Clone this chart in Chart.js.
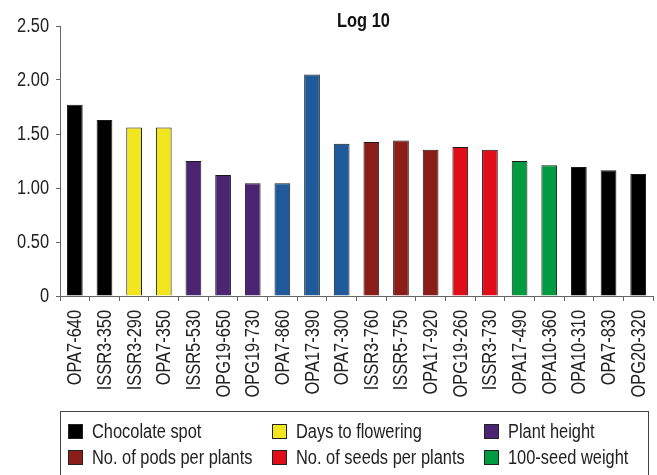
<!DOCTYPE html>
<html>
<head>
<meta charset="utf-8">
<script src="https://cdn.jsdelivr.net/npm/chart.js@4/dist/chart.umd.min.js"></script>
<style>
  html, body { margin: 0; padding: 0; background: #fff; }
  #wrap { width: 657px; height: 475px; }
</style>
</head>
<body>
<div id="wrap"><canvas id="log10-chart" width="657" height="475"></canvas></div>
<script>
/* data */
const markers = ['OPA7-640', 'ISSR3-350', 'ISSR3-290', 'OPA7-350', 'ISSR5-530', 'OPG19-650',
  'OPG19-730', 'OPA7-860', 'OPA17-390', 'OPA7-300', 'ISSR3-760', 'ISSR5-750', 'OPA17-920',
  'OPG19-260', 'ISSR3-730', 'OPA17-490', 'OPA10-360', 'OPA10-310', 'OPA7-830', 'OPG20-320'];
const log10Values = [1.77, 1.63, 1.56, 1.56, 1.25, 1.12, 1.045, 1.045, 2.05, 1.41,
  1.425, 1.44, 1.355, 1.38, 1.355, 1.25, 1.21, 1.195, 1.165, 1.13];
// trait index of each marker (6 = blue group, not in the legend)
const markerTrait = [0, 0, 1, 1, 2, 2, 2, 6, 6, 6, 3, 3, 3, 4, 4, 5, 5, 0, 0, 0];
const traitNames = ['Chocolate spot', 'Days to flowering', 'Plant height',
  'No. of pods per plants', 'No. of seeds per plants', '100-seed weight'];
const yTicks = [0, 0.5, 1, 1.5, 2, 2.5];

const traitColors = ['#000000', '#F2E620', '#4B2571', '#8B1E19', '#E00C17', '#009A40', '#1F5A9B'];
const FONT = "'Liberation Sans', Arial, sans-serif";
const NARROW = 0.82; // squeeze Arial-like text to look like the condensed face

function narrowText(c, text, x, y, align, rot) {
  c.save();
  c.translate(x, y);
  if (rot) c.rotate(rot);
  c.scale(NARROW, 1);
  c.textAlign = align;
  c.fillText(text, 0, 0);
  c.restore();
}

const yLabel = v => v === 0 ? '0' : v.toFixed(2);

// tick labels, title and boxed legend drawn by hand
const extras = {
  id: 'extras',
  afterDraw(chart) {
    const c = chart.ctx;
    const a = chart.chartArea;
    const xs = chart.scales.x, ys = chart.scales.y;
    c.save();
    c.fillStyle = '#222';
    c.textBaseline = 'middle';
    c.font = '20px ' + FONT;
    markers.forEach((m, i) => {
      narrowText(c, m, xs.getPixelForTick(i) + 1, xs.top + 14, 'right', -Math.PI / 2);
    });
    yTicks.forEach(v => {
      narrowText(c, yLabel(v), a.left - 11, ys.getPixelForValue(v), 'right', 0);
    });

    c.fillStyle = '#111';
    c.font = 'bold 20px ' + FONT;
    c.textBaseline = 'alphabetic';
    narrowText(c, 'Log 10', (a.left + a.right) / 2 + 7, 27, 'center', 0);

    c.strokeStyle = '#444';
    c.lineWidth = 1;
    c.strokeRect(60.5, 411.5, 588, 100);

    const colX = [68, 272, 484];
    const rowY = [424, 450];
    c.font = '20px ' + FONT;
    c.textBaseline = 'middle';
    traitNames.forEach((name, i) => {
      const x = colX[i % 3], y = rowY[Math.floor(i / 3)];
      c.fillStyle = traitColors[i];
      c.fillRect(x, y, 15, 15);
      c.strokeStyle = '#222';
      c.strokeRect(x + 0.5, y + 0.5, 14, 14);
      c.fillStyle = '#222';
      narrowText(c, name, x + 24, y + 8, 'left', 0);
    });
    c.restore();
  }
};

new Chart(document.getElementById('log10-chart').getContext('2d'), {
  type: 'bar',
  data: {
    labels: markers,
    datasets: [{
      data: log10Values,
      backgroundColor: markerTrait.map(t => traitColors[t]),
      borderColor: '#1a1a1a',
      borderWidth: 1,
      barPercentage: 0.53,
      categoryPercentage: 1
    }]
  },
  options: {
    responsive: false,
    animation: false,
    layout: { padding: { top: 26, left: 0, right: 4, bottom: 0 } },
    plugins: { legend: { display: false }, title: { display: false }, tooltip: { enabled: false } },
    scales: {
      x: {
        grid: { drawOnChartArea: false, tickLength: 5, tickColor: '#666', offset: true },
        border: { color: '#666' },
        ticks: { display: false, autoSkip: false },
        afterFit(scale) { scale.height = 179; }
      },
      y: {
        min: 0, max: 2.5,
        afterBuildTicks(scale) { scale.ticks = yTicks.map(v => ({ value: v })); },
        grid: { drawOnChartArea: false, tickLength: 4, tickColor: '#666' },
        border: { color: '#666' },
        ticks: { display: false },
        afterFit(scale) { scale.width = 60; }
      }
    }
  },
  plugins: [extras]
});
</script>
</body>
</html>
